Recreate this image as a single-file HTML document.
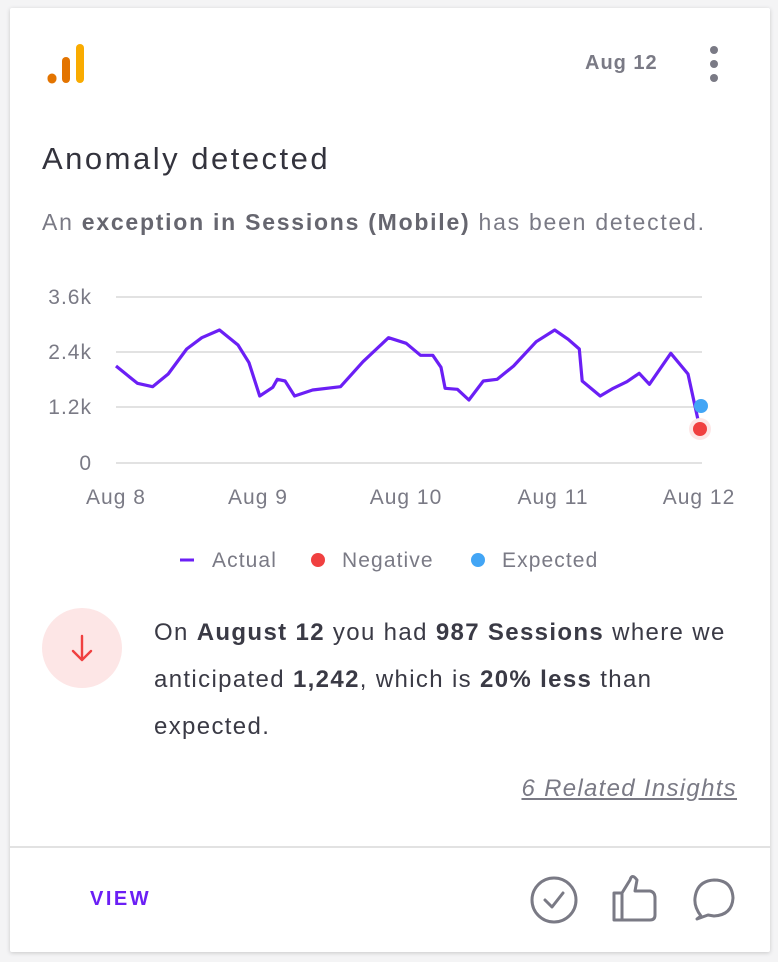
<!DOCTYPE html>
<html><head><meta charset="utf-8"><style>
html,body{margin:0;padding:0;background:#f4f4f5;width:778px;height:962px;overflow:hidden;font-family:"Liberation Sans",sans-serif;}
.card{position:absolute;left:10px;top:8px;width:760px;height:944px;background:#fff;box-shadow:0 1px 4px rgba(0,0,0,0.18);border-radius:2px;}
.a{position:absolute;white-space:nowrap;}
b{color:#3a3a45;}
</style></head><body>
<div class="card"></div>
<svg class="a" style="left:0;top:0" width="778" height="962">
 <line x1="52" y1="78" x2="52" y2="79" stroke="#e37400" stroke-width="9" stroke-linecap="round"/>
 <line x1="66" y1="61" x2="66" y2="79" stroke="#e37400" stroke-width="8" stroke-linecap="round"/>
 <line x1="80" y1="48" x2="80" y2="79" stroke="#f9ab00" stroke-width="8" stroke-linecap="round"/>
 <circle cx="714" cy="50" r="4" fill="#7a7a85"/><circle cx="714" cy="64" r="4" fill="#7a7a85"/><circle cx="714" cy="78" r="4" fill="#7a7a85"/>
 <g stroke="#e2e2e2" stroke-width="2">
  <line x1="116" y1="297" x2="702" y2="297"/><line x1="116" y1="352" x2="702" y2="352"/>
  <line x1="116" y1="407" x2="702" y2="407"/><line x1="116" y1="463" x2="702" y2="463"/>
 </g>
 <g font-size="21" fill="#7a7a85" text-anchor="end" letter-spacing="1">
  <text x="92" y="304">3.6k</text><text x="92" y="359">2.4k</text><text x="92" y="414">1.2k</text><text x="92" y="470">0</text>
 </g>
 <g font-size="21" fill="#7a7a85" text-anchor="middle" letter-spacing="1">
  <text x="116" y="504">Aug 8</text><text x="258" y="504">Aug 9</text><text x="406" y="504">Aug 10</text><text x="553" y="504">Aug 11</text><text x="699" y="504">Aug 12</text>
 </g>
 <polyline fill="none" stroke="#6b1ff5" stroke-width="3.2" stroke-linejoin="round" points="116,366 137.4,383.3 152.6,386.7 168.2,374 186.7,349 201.8,337.7 219.5,330 238,345 249,362.7 259.7,396 272.8,387.3 277.3,379.3 285.1,381 294.6,396 312.6,390 340.5,386.7 363,361.7 388.5,337.7 406.2,343.3 420.5,355.3 432.8,355.3 441,367.3 445.1,388.3 457.4,389.3 468.9,400 483.3,381 497.2,379.3 513.6,366 536.2,341.7 554.7,330 568.2,339.3 579.3,349 582.2,381 600.2,396 613.3,388.3 626.9,381.7 639.2,373.3 649.4,384.3 670.8,353.3 688,374 700,429"/>
 <circle cx="700" cy="429" r="11" fill="#fde6e6"/>
 <circle cx="700" cy="429" r="7" fill="#f04040"/>
 <circle cx="701" cy="406" r="7" fill="#42a5f5"/>
 <line x1="180" y1="560" x2="194" y2="560" stroke="#6b1ff5" stroke-width="3"/>
 <g font-size="21" fill="#7a7a85" letter-spacing="1.1">
 <text x="212" y="567">Actual</text>
 <text x="342" y="567">Negative</text>
 <text x="502" y="567">Expected</text>
 </g>
 <circle cx="318" cy="560" r="7" fill="#f04040"/>
 <circle cx="478" cy="560" r="7" fill="#42a5f5"/>
 <circle cx="82" cy="648" r="40" fill="#fde6e6"/>
 <path d="M82 636 V660 M73 651 L82 660 L91 651" fill="none" stroke="#f04040" stroke-width="2.4" stroke-linecap="round" stroke-linejoin="round"/>
 <line x1="10" y1="847" x2="770" y2="847" stroke="#e2e2e2" stroke-width="2"/>
 <circle cx="554" cy="900" r="22" fill="none" stroke="#7a7a85" stroke-width="3"/>
 <path d="M545 900 L552 907 L563 893" fill="none" stroke="#7a7a85" stroke-width="3" stroke-linecap="round" stroke-linejoin="round"/>
 <path d="M614 893 H622 V920 H614 Z M622 893 L630 880 Q632 873 637 880 L635 891 H650 Q655 892 655 898 V915 Q655 920 650 920 H622" fill="none" stroke="#7a7a85" stroke-width="3" stroke-linejoin="round"/>
 <path d="M701 916 Q694 907 695 898 Q697 881 714 880 Q732 880 733 898 Q732 915 714 916 L708 915 L697 919 Z" fill="none" stroke="#7a7a85" stroke-width="3" stroke-linejoin="round"/>
</svg>
<div class="a" style="left:585px;top:52px;font-size:20px;color:#7a7a85;font-weight:bold;letter-spacing:1px;">Aug 12</div>
<div class="a" style="left:42px;top:141px;font-size:31px;color:#33333d;letter-spacing:2.5px;">Anomaly detected</div>
<div class="a" style="left:42px;top:209px;font-size:23px;color:#7a7a85;letter-spacing:1.75px;">An <b style="color:#66666f">exception in Sessions (Mobile)</b> has been detected.</div>
<div class="a" style="left:154px;top:609px;font-size:24px;line-height:47px;color:#3a3a45;letter-spacing:1.35px;white-space:normal;width:620px;">On <b>August 12</b> you had <b>987 Sessions</b> where we<br>anticipated <b>1,242</b>, which is <b>20% less</b> than<br>expected.</div>
<div class="a" style="right:41px;top:775px;font-size:24px;color:#7a7a85;font-style:italic;text-decoration:underline;letter-spacing:1.3px;">6 Related Insights</div>
<div class="a" style="left:90px;top:888px;font-size:20px;color:#6b1ff5;font-weight:bold;letter-spacing:2.5px;">VIEW</div>
</body></html>
